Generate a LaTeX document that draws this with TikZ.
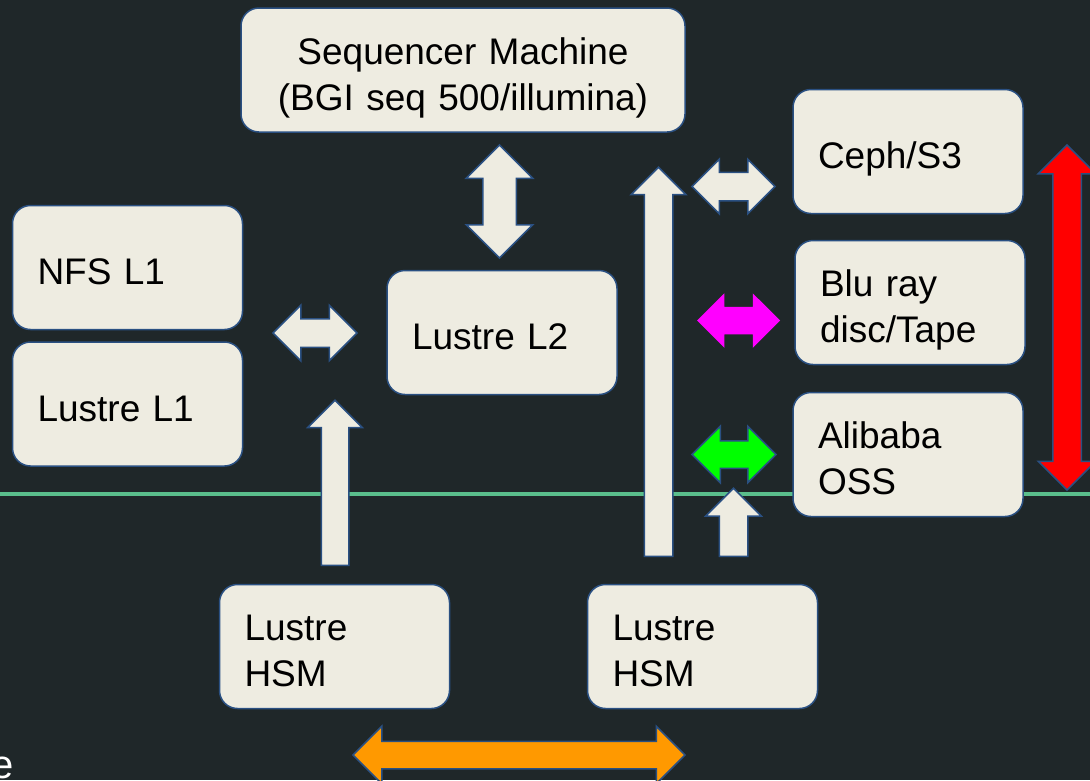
\documentclass[tikz,border=0pt]{standalone}
\usepackage{fontspec}
\setmainfont{Liberation Sans}
\usepackage{tikz}
\usetikzlibrary{shapes.arrows}

\definecolor{bgdark}{RGB}{31,39,41}
\definecolor{boxfill}{RGB}{238,236,225}
\definecolor{boxline}{RGB}{42,80,130}
\definecolor{sepline}{RGB}{90,190,140}
\definecolor{arrorange}{RGB}{255,153,0}
\definecolor{arrmagenta}{RGB}{255,0,255}
\definecolor{arrgreen}{RGB}{0,255,0}
\definecolor{arrred}{RGB}{255,0,0}

\tikzset{
  box/.style={draw=boxline, line width=1.5pt, fill=boxfill, rounded corners=18pt,
    minimum width=230pt, minimum height=124pt, inner xsep=25pt, inner ysep=0pt,
    text width=180pt, align=left, font=\fontsize{37}{46}\selectfont,
    execute at begin node={\rule{0pt}{44pt}},
    execute at end node={\rule[-10pt]{0pt}{0pt}}},
  dblarr/.style={double arrow, draw=boxline, line width=1.5pt, fill=boxfill,
    inner xsep=0pt, double arrow tip angle=90},
  uparr/.style={single arrow, draw=boxline, line width=1.5pt, fill=boxfill,
    inner xsep=0pt, single arrow tip angle=90, rotate=90, anchor=tail},
}

\begin{document}
\begin{tikzpicture}[x=1pt, y=-1pt]
            \fill[bgdark] (0, 0) rectangle (1090, 780);
            \useasboundingbox (0, 0) rectangle (1090, 780);
            \draw[sepline, line width=4pt] (0, 493.5) -- (1090, 493.5);
            \node[white, anchor=base west, inner sep=0pt, font=\fontsize{40}{48}\selectfont] (cut) at (-9, 778) {e};

            \node[box, minimum width=444pt, text width=394pt, align=center] (seq) at (463, 70) {Sequencer Machine\\(BGI seq 500/illumina)};
            \node[box] (nfs) at (127.5, 267.5) {NFS L1};
            \node[box] (lone) at (127.5, 404) {Lustre L1};
            \node[box] (ltwo) at (502, 332.5) {Lustre L2};
            \node[box] (ceph) at (908, 151.5) {Ceph/S3};
            \node[box] (tape) at (910, 302.5) {Blu ray\\disc/Tape};
            \node[box] (oss) at (908, 454.5) {Alibaba\\OSS};
            \node[box] (hsma) at (334.5, 646.5) {Lustre\\HSM};
            \node[box] (hsmb) at (702.5, 646.5) {Lustre\\HSM};

            \node[dblarr, rotate=90, inner ysep=16pt, minimum height=113pt, minimum width=65pt, double arrow head extend=16.5pt] (seqarr) at (499.5, 201.5) {};
            \node[dblarr, inner ysep=13.5pt, minimum height=84pt, minimum width=54pt, double arrow head extend=13.5pt] (lonearr) at (315, 333) {};
            \node[dblarr, inner ysep=13.5pt, minimum height=83pt, minimum width=53pt, double arrow head extend=13pt] (cepharr) at (733.5, 186.5) {};
            \node[dblarr, fill=arrmagenta, draw=none, inner ysep=13pt, minimum height=83pt, minimum width=53pt, double arrow head extend=13.5pt] (tapearr) at (738.5, 320.5) {};
            \node[dblarr, fill=arrgreen, inner ysep=13pt, minimum height=84pt, minimum width=55pt, double arrow head extend=14.5pt] (ossarr) at (734, 454.5) {};
            \node[dblarr, fill=arrred, rotate=90, inner ysep=13.5pt, minimum height=345pt, minimum width=56pt, double arrow head extend=14.5pt] (cloudarr) at (1067, 317.5) {};
            \node[dblarr, fill=arrorange, inner ysep=13pt, minimum height=332pt, minimum width=56pt, double arrow head extend=15pt] (hsmarr) at (519, 755) {};

            \node[uparr, inner ysep=13pt, minimum height=165pt, minimum width=53pt, single arrow head extend=13.5pt] (upa) at (335, 566) {};
            \node[uparr, inner ysep=13.5pt, minimum height=389pt, minimum width=53pt, single arrow head extend=13pt] (upb) at (658.5, 557) {};
            \node[uparr, inner ysep=13.5pt, minimum height=68pt, minimum width=54pt, single arrow head extend=13.5pt] (upc) at (733.5, 557) {};
\end{tikzpicture}
\end{document}
